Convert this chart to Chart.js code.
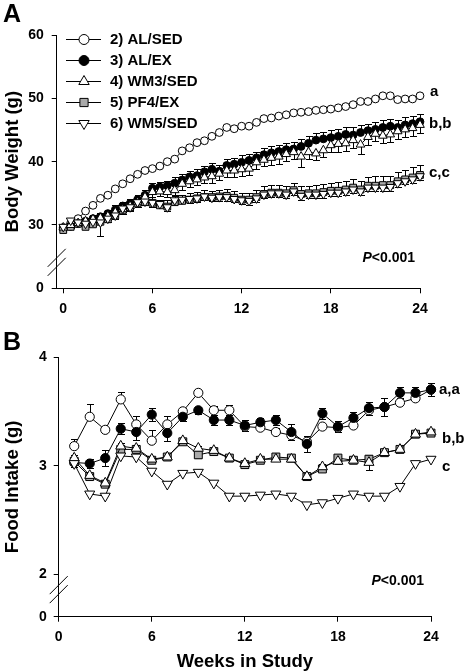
<!DOCTYPE html>
<html><head><meta charset="utf-8">
<script src="https://cdn.jsdelivr.net/npm/chart.js@4/dist/chart.umd.min.js"></script>
<style>
html,body{margin:0;padding:0;background:#fff;width:464px;height:671px;overflow:hidden}
#wa{position:absolute;left:0;top:0;width:464px;height:330px}
#wb{position:absolute;left:0;top:330px;width:464px;height:341px}
</style></head><body>
<div id="wa"><canvas id="ca"></canvas></div>
<div id="wb"><canvas id="cb"></canvas></div>
<script>
// ---------- DATA ----------
const seriesNames = ['2) AL/SED','3) AL/EX','4) WM3/SED','5) PF4/EX','6) WM5/SED'];

// Panel A: body weight (g), twice weekly
const weeksA = [0,0.5,1,1.5,2,2.5,3,3.5,4,4.5,5,5.5,6,6.5,7,7.5,8,8.5,9,9.5,10,10.5,11,11.5,12,12.5,13,13.5,14,14.5,15,15.5,16,16.5,17,17.5,18,18.5,19,19.5,20,20.5,21,21.5,22,22.5,23,23.5,24];
const alSedA = [29.6,30.3,31.0,32.2,33.1,34.2,34.7,35.7,36.5,37.3,38.0,38.6,38.9,39.3,40.0,40.4,41.7,42.2,43.0,43.3,44.0,44.6,45.4,45.2,45.6,45.6,46.2,46.8,46.9,47.2,47.4,47.7,47.8,47.9,48.1,48.2,48.3,48.5,48.7,49.0,49.5,49.5,49.9,50.4,50.4,49.8,49.9,49.9,50.4];
const alExA = [29.4,29.8,30.2,30.6,31.0,31.3,31.8,32.4,33.0,33.4,34.0,34.7,35.8,36.0,36.2,36.6,37.1,37.6,37.8,38.4,38.8,38.5,39.4,39.6,39.9,40.2,40.6,41.1,41.4,41.6,41.9,42.0,42.4,42.9,43.4,43.6,43.8,44.0,44.3,44.2,44.6,44.9,45.1,45.4,45.6,45.4,45.8,46.0,46.3];
const wm3SedA = [29.6,30.0,30.3,30.6,30.9,31.1,31.4,32.0,32.5,33.0,33.6,34.4,35.2,35.3,35.2,35.5,36.5,36.9,37.2,37.5,37.7,38.1,38.6,38.6,38.8,38.9,39.9,40.3,40.6,40.8,41.2,41.5,40.8,41.5,41.3,41.8,42.6,42.8,42.9,43.4,42.7,43.9,44.4,44.1,44.3,44.8,45.1,45.3,45.8];
const pf4ExA = [29.2,29.7,30.2,29.7,30.1,30.5,30.9,31.5,32.3,32.8,33.4,33.6,33.5,33.1,32.9,33.6,33.8,34.0,34.2,34.4,34.4,34.5,34.6,34.3,34.0,34.0,34.4,34.9,35.1,35.1,35.0,35.5,34.9,35.0,35.0,35.2,35.4,35.4,35.6,35.9,35.6,36.2,36.2,36.3,36.3,36.9,37.2,37.5,37.9];
const wm5SedA = [29.7,30.7,30.4,30.2,30.5,30.4,31.0,31.5,32.6,32.8,33.6,33.7,33.5,33.3,32.8,33.9,34.0,34.1,34.2,34.5,34.3,34.4,34.4,34.1,33.9,33.8,34.2,34.8,35.0,35.0,34.8,35.3,34.6,34.8,34.8,34.9,35.1,35.1,35.3,35.6,35.3,35.9,35.9,35.9,36.0,36.6,36.9,37.2,37.7];
const errAlExA = [0.3,0.4,0.5,0.5,0.6,0.6,0.6,0.7,0.7,0.7,0.8,0.8,0.9,0.8,0.8,0.9,0.9,0.9,1.0,0.9,1.0,1.0,1.0,1.0,1.1,1.0,1.0,1.1,1.1,1.0,1.1,1.1,1.1,1.2,1.1,1.1,1.2,1.2,1.1,1.2,1.2,1.1,1.2,1.2,1.2,1.1,1.2,1.2,1.2];
const errWm3SedA = [0.3,0.4,0.4,0.5,0.5,0.6,0.6,0.6,0.7,0.7,0.7,0.8,0.8,0.8,0.8,0.8,0.9,0.9,0.9,0.9,1.0,1.0,1.0,1.0,1.0,1.0,1.0,1.0,1.1,1.1,1.1,1.1,1.6,1.1,1.1,1.1,1.1,1.2,1.2,1.2,1.5,1.2,1.2,1.2,1.2,1.2,1.2,1.2,1.2];
const errPf4ExA = [0.4,0.5,0.6,0.6,0.7,0.7,0.8,0.8,0.8,0.9,0.9,0.9,0.9,0.9,1.0,1.0,1.0,1.0,1.0,1.1,1.0,1.1,1.1,1.1,1.1,1.1,1.1,1.2,1.2,1.2,1.2,1.2,1.2,1.2,1.3,1.3,1.3,1.4,1.4,1.4,1.4,1.4,1.5,1.5,1.5,1.5,1.5,1.6,1.6];
const errWm5SedA = [0.3,0.4,0.5,0.5,0.6,2.2,0.6,0.5,0.6,0.6,0.5,0.6,0.6,0.5,0.6,0.6,0.5,0.6,0.6,0.6,0.5,0.6,0.6,0.5,0.6,0.6,0.5,0.6,0.6,0.6,0.5,0.6,0.6,0.5,0.6,0.6,0.5,0.6,0.6,0.6,0.5,0.6,0.6,0.5,0.6,0.6,0.5,0.6,0.6];

// Panel B: food intake (g), weekly
const weeksB = [1,2,3,4,5,6,7,8,9,10,11,12,13,14,15,16,17,18,19,20,21,22,23,24];
const alSedB = [3.18,3.45,3.33,3.61,3.38,3.23,3.38,3.50,3.67,3.51,3.51,3.36,3.35,3.31,3.28,3.22,3.36,3.35,3.37,3.51,3.54,3.58,3.62,3.70];
const alExB = [3.03,3.02,3.07,3.34,3.31,3.47,3.30,3.45,3.51,3.42,3.42,3.37,3.40,3.42,3.31,3.20,3.48,3.36,3.44,3.53,3.54,3.67,3.67,3.70];
const wm3SedB = [3.07,2.91,2.84,3.18,3.16,3.06,3.08,3.23,3.16,3.14,3.07,3.02,3.06,3.06,3.06,2.90,2.99,3.04,3.05,3.03,3.12,3.15,3.29,3.31];
const pf4ExB = [3.04,2.90,2.83,3.15,3.15,3.05,3.08,3.22,3.10,3.13,3.07,3.01,3.05,3.08,3.07,2.90,2.97,3.07,3.05,3.06,3.12,3.15,3.29,3.30];
const wm5SedB = [3.02,2.74,2.72,3.09,3.08,2.95,2.83,2.93,2.94,2.84,2.72,2.72,2.73,2.74,2.72,2.64,2.66,2.70,2.74,2.72,2.72,2.81,3.02,3.06];
const errAlSedB = [0.07,0.12,0.03,0.07,0.08,0.10,0.08,0.03,0.04,0.04,0.05,0.03,0.03,0.04,0.04,0.05,0.03,0.03,0.03,0.04,0.03,0.03,0.03,0.03];
const errAlExB = [0.04,0.04,0.07,0.05,0.07,0.06,0.07,0.04,0.03,0.05,0.05,0.05,0.04,0.05,0.07,0.07,0.05,0.05,0.05,0.06,0.08,0.05,0.05,0.06];
const errWm3SedB = [0.03,0.02,0.03,0.03,0.03,0.02,0.02,0.02,0.02,0.02,0.02,0.02,0.02,0.02,0.02,0.02,0.03,0.02,0.02,0.07,0.02,0.02,0.02,0.02];
const errPf4ExB = [0.02,0.02,0.03,0.03,0.02,0.02,0.02,0.02,0.03,0.02,0.02,0.03,0.02,0.02,0.02,0.02,0.02,0.02,0.02,0.02,0.02,0.02,0.02,0.02];

// Axis ticks (broken axes: lowest tick shows "0")
const xTicks = [0,6,12,18,24];
const yTicksA = [20,30,40,50,60];
const yTickLabelsA = ['0','30','40','50','60'];
const yTicksB = [1.611,2,3,4];
const yTickLabelsB = ['0','2','3','4'];

// Group letters (end-of-line labels)
const groupTextA = ['a','b,b','c,c'];
const groupValA = [51.0,45.9,38.2];
const groupTextB = ['a,a','b,b','c'];
const groupValB = [3.70,3.25,2.99];
const pText = '<0.001';

// ---------- STYLE ----------
const FONT = "'Liberation Sans', Arial, Helvetica, sans-serif";
Chart.defaults.font.family = FONT;
Chart.defaults.font.weight = 'bold';
Chart.defaults.font.size = 14;
Chart.defaults.color = '#000';

const looks = [
  {pointStyle:'circle', bg:'#fff', rot:0, order:5, rA:3.9, rB:4.6, rL:5},
  {pointStyle:'circle', bg:'#000', rot:0, order:4, rA:3.9, rB:4.6, rL:5},
  {pointStyle:'triangle', bg:'#fff', rot:0, order:2, rA:5.0, rB:5.8, rL:6},
  {pointStyle:'rect', bg:'#a9a9a9', rot:0, order:3, rA:4.8, rB:5.6, rL:5.8},
  {pointStyle:'triangle', bg:'#fff', rot:180, order:1, rA:5.0, rB:5.8, rL:6}
];

function makeSet(i, xs, ys, errs, dir, panel){
  const lk = looks[i];
  return {
    label: seriesNames[i],
    data: xs.map((x,k)=>({x:x, y:ys[k]})),
    errors: errs, errDir: dir,
    borderColor:'#000', borderWidth:1,
    pointStyle: lk.pointStyle, pointRotation: lk.rot,
    pointBackgroundColor: lk.bg, pointBorderColor:'#000', pointBorderWidth:1,
    pointRadius: panel==='A'?lk.rA:lk.rB,
    order: lk.order, clip:false, tension:0, fill:false
  };
}

const errorBars = {
  id:'errbars',
  beforeDatasetsDraw(chart){
    const ctx = chart.ctx, ys = chart.scales.y;
    ctx.save(); ctx.strokeStyle='#000'; ctx.lineWidth=1;
    chart.data.datasets.forEach((d,di)=>{
      if(!d.errors) return;
      const meta = chart.getDatasetMeta(di);
      meta.data.forEach((pt,i)=>{
        const e = d.errors[i]; if(!e) return;
        const v = d.data[i].y;
        const x = Math.round(pt.x)+0.5;
        const ends = [];
        if(d.errDir!=='down') ends.push(ys.getPixelForValue(v+e));
        if(d.errDir!=='up') ends.push(ys.getPixelForValue(v-e));
        ends.forEach(ye=>{
          const yy = Math.round(ye)+0.5;
          ctx.beginPath();
          ctx.moveTo(x,pt.y); ctx.lineTo(x,yy);
          ctx.moveTo(x-3.5,yy); ctx.lineTo(x+3.5,yy);
          ctx.stroke();
        });
      });
    });
    ctx.restore();
  }
};

function drawBreak(ctx, x, y){
  ctx.save(); ctx.strokeStyle='#000'; ctx.lineWidth=1;
  [-4.5,4.5].forEach(o=>{
    ctx.beginPath(); ctx.moveTo(x-9, y+9+o); ctx.lineTo(x+9, y-9+o); ctx.stroke();
  });
  ctx.restore();
}
function drawP(ctx, xRight, y){
  ctx.save();
  ctx.textBaseline='middle';
  ctx.font = 'bold 14px '+FONT;
  const w2 = ctx.measureText(pText).width;
  ctx.font = 'italic bold 14px '+FONT;
  const w1 = ctx.measureText('P').width;
  ctx.fillStyle='#000';
  ctx.fillText('P', xRight-w2-w1, y);
  ctx.font = 'bold 14px '+FONT;
  ctx.fillText(pText, xRight-w2, y);
  ctx.restore();
}

const decor = {
  id:'decor',
  afterDraw(chart, args, opts){
    const ctx = chart.ctx, ca = chart.chartArea, ys = chart.scales.y;
    ctx.save();
    ctx.fillStyle='#000';
    ctx.textBaseline='alphabetic';
    ctx.font = 'bold 25px '+FONT;
    ctx.fillText(opts.letter, 3, opts.letterY);
    ctx.font = 'bold 15px '+FONT;
    ctx.textBaseline='middle';
    opts.groups.forEach((g,i)=>{
      ctx.fillText(g, ca.right + opts.groupDx[i], ys.getPixelForValue(opts.groupVals[i]));
    });
    drawP(ctx, opts.pRight, opts.pY);
    drawBreak(ctx, ca.left, ys.getPixelForValue(opts.breakVal));
    if(opts.legend){
      const L = opts.legend;
      chart.data.datasets.forEach((d,i)=>{
        const y = L.y0 + L.dy*i;
        ctx.strokeStyle='#000'; ctx.lineWidth=1;
        ctx.beginPath(); ctx.moveTo(L.x0, y+0.5); ctx.lineTo(L.x1, y+0.5); ctx.stroke();
        const lk = looks[i];
        ctx.fillStyle = lk.bg;
        Chart.helpers.drawPoint(ctx, {pointStyle:lk.pointStyle, rotation:lk.rot, radius:lk.rL, borderWidth:1}, L.xm, y+0.5);
        ctx.fillStyle='#000';
        ctx.font = 'bold 15px '+FONT;
        ctx.textBaseline='middle';
        ctx.fillText(d.label, L.xt, y+1);
      });
    }
    ctx.restore();
  }
};

function axes(xMin, yMin, yMax, yTicks, yLabels, yTitle, yWidth, xHeight, yPad, xTitle){
  return {
    x: {
      type:'linear', min:xMin, max:24,
      afterBuildTicks(s){ s.ticks = xTicks.map(v=>({value:v})); },
      afterFit(s){ s.height = xHeight; },
      ticks:{ autoSkip:false, maxRotation:0, padding:7, font:{size:14, weight:'bold'}, color:'#000' },
      grid:{ display:true, drawOnChartArea:false, drawTicks:true, tickLength:5, color:'#000', lineWidth:1 },
      border:{ display:true, color:'#000', width:1 },
      title: xTitle ? { display:true, text:xTitle, color:'#000', font:{size:18.5, weight:'bold', lineHeight:1}, padding:{top:0,bottom:0} } : {display:false}
    },
    y: {
      type:'linear', min:yMin, max:yMax,
      afterBuildTicks(s){ s.ticks = yTicks.map(v=>({value:v})); },
      afterFit(s){ s.width = yWidth; },
      ticks:{ autoSkip:false, padding:yPad, font:{size:14, weight:'bold'}, color:'#000',
        callback(v){ const k = yTicks.indexOf(v); return k>=0 ? yLabels[k] : ''; } },
      grid:{ display:true, drawOnChartArea:false, drawTicks:true, tickLength:5, color:'#000', lineWidth:1 },
      border:{ display:true, color:'#000', width:1 },
      title:{ display:true, text:yTitle, color:'#000', font:{size:18.5, weight:'bold', lineHeight:1}, padding:{top:4,bottom:0} }
    }
  };
}

const common = {
  responsive:true, maintainAspectRatio:false, animation:false, devicePixelRatio:1,
  events:[]
};

new Chart(document.getElementById('ca'), {
  type:'line',
  data:{ datasets:[
    makeSet(0, weeksA, alSedA, null, 'up', 'A'),
    makeSet(1, weeksA, alExA, errAlExA, 'up', 'A'),
    makeSet(2, weeksA, wm3SedA, errWm3SedA, 'down', 'A'),
    makeSet(3, weeksA, pf4ExA, errPf4ExA, 'up', 'A'),
    makeSet(4, weeksA, wm5SedA, errWm5SedA, 'down', 'A')
  ]},
  options: Object.assign({}, common, {
    layout:{ padding:{ left:0, right:44, top:35, bottom:0 } },
    scales: axes(-0.44, 20, 60, yTicksA, yTickLabelsA, 'Body Weight (g)', 56.7, 41.7, 8, null),
    plugins:{ legend:{display:false}, tooltip:{enabled:false},
      decor:{ letter:'A', letterY:22, groups:groupTextA, groupVals:groupValA, groupDx:[10,9,9],
        pRight:415, pY:258, breakVal:24.1,
        legend:{ x0:66, x1:101, xm:84, xt:110, y0:39, dy:21 } } }
  }),
  plugins:[errorBars, decor]
});

new Chart(document.getElementById('cb'), {
  type:'line',
  data:{ datasets:[
    makeSet(0, weeksB, alSedB, errAlSedB, 'up', 'B'),
    makeSet(1, weeksB, alExB, errAlExB, 'both', 'B'),
    makeSet(2, weeksB, wm3SedB, errWm3SedB, 'both', 'B'),
    makeSet(3, weeksB, pf4ExB, errPf4ExB, 'both', 'B'),
    makeSet(4, weeksB, wm5SedB, null, 'both', 'B')
  ]},
  options: Object.assign({}, common, {
    layout:{ padding:{ left:0, right:33, top:27, bottom:0 } },
    scales: axes(0, 1.611, 4, yTicksB, yTickLabelsB, 'Food Intake (g)', 58.7, 54.3, 7, 'Weeks in Study'),
    plugins:{ legend:{display:false}, tooltip:{enabled:false},
      decor:{ letter:'B', letterY:19.5, groups:groupTextB, groupVals:groupValB, groupDx:[8,11,11],
        pRight:424, pY:251, breakVal:1.86, legend:null } }
  }),
  plugins:[errorBars, decor]
});
</script>
</body></html>
